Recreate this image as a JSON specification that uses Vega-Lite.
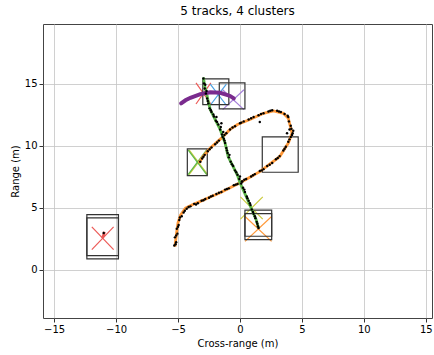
{
  "$schema": "https://vega.github.io/schema/vega-lite/v6.json",
  "width": 389,
  "height": 294,
  "autosize": {"type": "none"},
  "padding": {"left": 43, "top": 24, "right": 2, "bottom": 37},
  "background": "white",
  "title": {"text": "5 tracks, 4 clusters", "font": "DejaVu Sans", "fontSize": 12, "fontWeight": "normal", "color": "#000", "offset": 6, "anchor": "middle"},
  "config": {
    "view": {"stroke": "#444", "strokeWidth": 1},
    "axis": {"grid": true, "gridColor": "#c4c4c4", "gridWidth": 0.8, "domain": false, "tickColor": "#333", "tickSize": 4, "labelPadding": 2, "labelFont": "DejaVu Sans", "labelFontSize": 10, "labelColor": "#000", "titleFont": "DejaVu Sans", "titleFontSize": 10, "titleFontWeight": "normal", "titleColor": "#000", "titlePadding": 4}
  },
  "datasets": {
    "boxes": [
      {"x": -3.0, "x2": -0.9, "y": 13.3, "y2": 15.38},
      {"x": -1.67, "x2": 0.4, "y": 12.96, "y2": 15.05},
      {"x": 1.8, "x2": 4.7, "y": 7.85, "y2": 10.7},
      {"x": -4.25, "x2": -2.64, "y": 7.58, "y2": 9.73},
      {"x": 0.4, "x2": 2.56, "y": 2.42, "y2": 4.79},
      {"x": 0.4, "x2": 2.56, "y": 2.69, "y2": 4.52},
      {"x": -12.36, "x2": -9.81, "y": 0.86, "y2": 4.44},
      {"x": -12.36, "x2": -9.81, "y": 1.13, "y2": 4.17}
    ],
    "crosses": [
      {"k": "red", "x": -3.55, "y": 13.35, "x2": -2.35, "y2": 15.05},
      {"k": "red", "x": -3.55, "y": 15.05, "x2": -2.35, "y2": 13.35},
      {"k": "blue", "x": -2.4, "y": 13.25, "x2": -1.1, "y2": 14.95},
      {"k": "blue", "x": -2.4, "y": 14.95, "x2": -1.1, "y2": 13.25},
      {"k": "lavender", "x": -1.4, "y": 12.9, "x2": 0.32, "y2": 14.5},
      {"k": "lavender", "x": -1.4, "y": 14.5, "x2": 0.32, "y2": 12.9},
      {"k": "yellow", "x": -4.11, "y": 7.65, "x2": -2.61, "y2": 9.65},
      {"k": "yellow", "x": -4.11, "y": 9.65, "x2": -2.61, "y2": 7.65},
      {"k": "green", "x": -4.19, "y": 7.65, "x2": -2.69, "y2": 9.65},
      {"k": "green", "x": -4.19, "y": 9.65, "x2": -2.69, "y2": 7.65},
      {"k": "yellow", "x": 0.04, "y": 4.07, "x2": 1.84, "y2": 5.87},
      {"k": "yellow", "x": 0.04, "y": 5.87, "x2": 1.84, "y2": 4.07},
      {"k": "orange", "x": 0.41, "y": 2.28, "x2": 2.55, "y2": 4.28},
      {"k": "orange", "x": 0.41, "y": 4.28, "x2": 2.55, "y2": 2.28},
      {"k": "red", "x": -11.96, "y": 1.61, "x2": -10.2, "y2": 3.45},
      {"k": "red", "x": -11.96, "y": 3.45, "x2": -10.2, "y2": 1.61}
    ],
    "tracks": [
      {"t": "orange", "o": 1, "x": -5.25, "y": 1.85},
      {"t": "orange", "o": 2, "x": -5.2, "y": 2.3},
      {"t": "orange", "o": 3, "x": -5.1, "y": 3.1},
      {"t": "orange", "o": 4, "x": -5.0, "y": 3.8},
      {"t": "orange", "o": 5, "x": -4.8, "y": 4.4},
      {"t": "orange", "o": 6, "x": -4.4, "y": 4.95},
      {"t": "orange", "o": 7, "x": -3.8, "y": 5.25},
      {"t": "orange", "o": 8, "x": -3.2, "y": 5.5},
      {"t": "orange", "o": 9, "x": -2.4, "y": 5.85},
      {"t": "orange", "o": 10, "x": -1.6, "y": 6.2},
      {"t": "orange", "o": 11, "x": -0.8, "y": 6.6},
      {"t": "orange", "o": 12, "x": 0.0, "y": 7.0},
      {"t": "orange", "o": 13, "x": 0.8, "y": 7.45},
      {"t": "orange", "o": 14, "x": 1.6, "y": 7.9},
      {"t": "orange", "o": 15, "x": 2.4, "y": 8.5},
      {"t": "orange", "o": 16, "x": 3.2, "y": 9.1},
      {"t": "orange", "o": 17, "x": 3.9, "y": 10.2},
      {"t": "orange", "o": 18, "x": 4.2, "y": 11.0},
      {"t": "orange", "o": 19, "x": 4.05, "y": 11.6},
      {"t": "orange", "o": 20, "x": 3.9, "y": 12.2},
      {"t": "orange", "o": 21, "x": 3.5, "y": 12.6},
      {"t": "orange", "o": 22, "x": 2.7, "y": 12.8},
      {"t": "orange", "o": 23, "x": 1.9, "y": 12.6},
      {"t": "orange", "o": 24, "x": 0.8, "y": 12.1},
      {"t": "orange", "o": 25, "x": -0.2, "y": 11.7},
      {"t": "orange", "o": 26, "x": -0.8, "y": 11.3},
      {"t": "orange", "o": 27, "x": -1.5, "y": 10.6},
      {"t": "orange", "o": 28, "x": -2.4, "y": 9.8},
      {"t": "orange", "o": 29, "x": -3.0, "y": 9.1},
      {"t": "orange", "o": 30, "x": -3.3, "y": 8.6},
      {"t": "green", "o": 1, "x": -2.95, "y": 15.5},
      {"t": "green", "o": 2, "x": -2.85, "y": 14.8},
      {"t": "green", "o": 3, "x": -2.7, "y": 14.25},
      {"t": "green", "o": 4, "x": -2.55, "y": 13.5},
      {"t": "green", "o": 5, "x": -2.4, "y": 12.9},
      {"t": "green", "o": 6, "x": -2.0, "y": 12.1},
      {"t": "green", "o": 7, "x": -1.6, "y": 11.3},
      {"t": "green", "o": 8, "x": -1.2, "y": 10.2},
      {"t": "green", "o": 9, "x": -0.95, "y": 9.1},
      {"t": "green", "o": 10, "x": -0.55, "y": 8.3},
      {"t": "green", "o": 11, "x": -0.2, "y": 7.6},
      {"t": "green", "o": 12, "x": 0.0, "y": 7.0},
      {"t": "green", "o": 13, "x": 0.5, "y": 5.9},
      {"t": "green", "o": 14, "x": 0.95, "y": 4.85},
      {"t": "green", "o": 15, "x": 1.3, "y": 4.05},
      {"t": "green", "o": 16, "x": 1.5, "y": 3.35},
      {"t": "green2", "o": 1, "x": -11.1, "y": 2.55},
      {"t": "green2", "o": 2, "x": -11.0, "y": 2.8},
      {"t": "green2", "o": 3, "x": -10.95, "y": 3.05}
    ],
    "purple": [
      {"o": 1, "x": -4.75, "y": 13.4},
      {"o": 2, "x": -4.4, "y": 13.65},
      {"o": 3, "x": -4.0, "y": 13.85},
      {"o": 4, "x": -3.2, "y": 14.15},
      {"o": 5, "x": -2.4, "y": 14.3},
      {"o": 6, "x": -1.6, "y": 14.25},
      {"o": 7, "x": -0.8, "y": 14.0},
      {"o": 8, "x": -0.5, "y": 13.8}
    ],
    "dets": [
      {"x": -5.3, "y": 1.95}, {"x": -5.15, "y": 2.2}, {"x": -5.25, "y": 2.6}, {"x": -5.05, "y": 2.9}, {"x": -5.1, "y": 3.3},
      {"x": -4.95, "y": 3.6}, {"x": -4.9, "y": 4.0}, {"x": -4.7, "y": 4.3}, {"x": -4.55, "y": 4.6}, {"x": -4.3, "y": 4.9},
      {"x": -4.0, "y": 5.1}, {"x": -3.7, "y": 5.3}, {"x": -3.4, "y": 5.35}, {"x": -3.1, "y": 5.55}, {"x": -2.8, "y": 5.7},
      {"x": -2.5, "y": 5.8}, {"x": -2.2, "y": 5.95}, {"x": -1.9, "y": 6.1}, {"x": -1.5, "y": 6.25}, {"x": -1.2, "y": 6.45},
      {"x": -0.9, "y": 6.55}, {"x": -0.5, "y": 6.8}, {"x": -0.2, "y": 6.9}, {"x": 0.2, "y": 7.1}, {"x": 0.5, "y": 7.3},
      {"x": 0.9, "y": 7.5}, {"x": 1.2, "y": 7.7}, {"x": 1.6, "y": 7.95}, {"x": 1.9, "y": 8.1}, {"x": 2.2, "y": 8.35},
      {"x": 2.6, "y": 8.6}, {"x": 2.9, "y": 8.9}, {"x": 3.2, "y": 9.15}, {"x": 3.5, "y": 9.6}, {"x": 3.7, "y": 9.9},
      {"x": 3.9, "y": 10.3}, {"x": 4.1, "y": 10.7}, {"x": 4.25, "y": 11.0}, {"x": 4.0, "y": 11.3}, {"x": 4.1, "y": 11.6},
      {"x": 3.95, "y": 11.95}, {"x": 3.9, "y": 12.3}, {"x": 3.6, "y": 12.55}, {"x": 3.3, "y": 12.7}, {"x": 3.0, "y": 12.8},
      {"x": 2.6, "y": 12.85}, {"x": 2.3, "y": 12.75}, {"x": 1.9, "y": 12.6}, {"x": 1.5, "y": 12.45}, {"x": 1.1, "y": 12.3},
      {"x": 0.7, "y": 12.1}, {"x": 0.3, "y": 11.95}, {"x": 0.0, "y": 11.8}, {"x": -0.4, "y": 11.55}, {"x": -0.8, "y": 11.3},
      {"x": -1.1, "y": 11.0}, {"x": -1.4, "y": 10.7}, {"x": -1.7, "y": 10.4}, {"x": -2.0, "y": 10.1}, {"x": -2.3, "y": 9.85},
      {"x": -2.6, "y": 9.55}, {"x": -2.85, "y": 9.25}, {"x": -3.05, "y": 8.95}, {"x": -3.2, "y": 8.7},
      {"x": -5.2, "y": 2.05}, {"x": -5.15, "y": 2.75}, {"x": -5.0, "y": 3.45}, {"x": -4.85, "y": 4.2}, {"x": -4.45, "y": 4.75},
      {"x": -4.15, "y": 5.05}, {"x": -3.55, "y": 5.25}, {"x": -2.95, "y": 5.6}, {"x": -2.35, "y": 5.9}, {"x": -1.7, "y": 6.2},
      {"x": -1.05, "y": 6.5}, {"x": -0.35, "y": 6.85}, {"x": 0.35, "y": 7.25}, {"x": 1.05, "y": 7.6}, {"x": 1.75, "y": 8.0},
      {"x": 2.4, "y": 8.45}, {"x": 3.05, "y": 9.0}, {"x": 3.6, "y": 9.75}, {"x": 4.0, "y": 10.5}, {"x": 4.2, "y": 10.85},
      {"x": 4.15, "y": 11.35}, {"x": 3.85, "y": 12.4}, {"x": 3.15, "y": 12.75}, {"x": 2.45, "y": 12.8}, {"x": 1.7, "y": 12.55},
      {"x": 0.9, "y": 12.2}, {"x": 0.1, "y": 11.85}, {"x": -0.6, "y": 11.45}, {"x": -1.25, "y": 10.85}, {"x": -1.85, "y": 10.25},
      {"x": -2.45, "y": 9.7}, {"x": -2.95, "y": 9.1},
      {"x": -2.95, "y": 15.4}, {"x": -2.9, "y": 15.0}, {"x": -2.85, "y": 14.6}, {"x": -2.75, "y": 14.2}, {"x": -2.65, "y": 13.8},
      {"x": -2.55, "y": 13.4}, {"x": -2.45, "y": 13.0}, {"x": -2.3, "y": 12.7}, {"x": -2.1, "y": 12.35}, {"x": -1.95, "y": 12.0},
      {"x": -1.75, "y": 11.7}, {"x": -1.6, "y": 11.3}, {"x": -1.45, "y": 10.9}, {"x": -1.3, "y": 10.55}, {"x": -1.2, "y": 10.2},
      {"x": -1.1, "y": 9.8}, {"x": -1.0, "y": 9.4}, {"x": -0.9, "y": 9.05}, {"x": -0.75, "y": 8.7}, {"x": -0.55, "y": 8.35},
      {"x": -0.4, "y": 8.0}, {"x": -0.2, "y": 7.65}, {"x": -0.05, "y": 7.3}, {"x": 0.1, "y": 6.95}, {"x": 0.25, "y": 6.6},
      {"x": 0.4, "y": 6.25}, {"x": 0.55, "y": 5.9}, {"x": 0.7, "y": 5.55}, {"x": 0.85, "y": 5.2}, {"x": 0.95, "y": 4.85},
      {"x": 1.1, "y": 4.5}, {"x": 1.25, "y": 4.15}, {"x": 1.35, "y": 3.85}, {"x": 1.45, "y": 3.5}, {"x": 1.5, "y": 3.35},
      {"x": -2.8, "y": 14.9}, {"x": -2.7, "y": 14.4}, {"x": -2.6, "y": 13.6}, {"x": -2.35, "y": 12.85}, {"x": -2.15, "y": 12.5},
      {"x": -1.85, "y": 11.9}, {"x": -1.55, "y": 11.5}, {"x": -1.35, "y": 11.1}, {"x": -1.25, "y": 10.4}, {"x": -1.05, "y": 9.6},
      {"x": -0.85, "y": 9.25}, {"x": -0.65, "y": 8.5}, {"x": -0.3, "y": 7.85}, {"x": 0.0, "y": 7.5}, {"x": 0.15, "y": 7.1},
      {"x": 0.35, "y": 6.45}, {"x": 0.6, "y": 5.75}, {"x": 0.8, "y": 5.35}, {"x": 1.05, "y": 4.65}, {"x": 1.2, "y": 4.3}, {"x": 1.4, "y": 3.7},
      {"x": 1.6, "y": 11.9}, {"x": -1.9, "y": 12.3}, {"x": -1.5, "y": 11.8}, {"x": 4.3, "y": 11.2}, {"x": 3.8, "y": 11.0}, {"x": -11.0, "y": 2.95}
    ]
  },
  "encoding": {
    "x": {"field": "x", "type": "quantitative", "scale": {"domain": [-15.9, 15.5], "nice": false, "zero": false}, "axis": {"title": "Cross-range (m)", "values": [-15, -10, -5, 0, 5, 10, 15]}},
    "y": {"field": "y", "type": "quantitative", "scale": {"domain": [-3.9, 19.8], "nice": false, "zero": false}, "axis": {"title": "Range (m)", "values": [0, 5, 10, 15]}}
  },
  "layer": [
    {
      "data": {"name": "crosses"},
      "mark": {"type": "rule", "strokeWidth": 1.2, "opacity": 1, "clip": true},
      "encoding": {
        "x2": {"field": "x2"},
        "y2": {"field": "y2"},
        "color": {"field": "k", "type": "nominal", "legend": null, "scale": {"domain": ["red", "blue", "lavender", "yellow", "green", "orange"], "range": ["#ec5a57", "#4b9fe0", "#a47ed8", "#c9c93a", "#5db84a", "#ff9838"]}}
      }
    },
    {
      "data": {"name": "boxes"},
      "mark": {"type": "rect", "fill": "transparent", "stroke": "#333333", "strokeWidth": 1.2, "clip": true},
      "encoding": {"x2": {"field": "x2"}, "y2": {"field": "y2"}}
    },
    {
      "data": {"name": "tracks"},
      "mark": {"type": "line", "strokeWidth": 2.8, "clip": true},
      "encoding": {
        "order": {"field": "o", "type": "quantitative"},
        "color": {"field": "t", "type": "nominal", "legend": null, "scale": {"domain": ["orange", "green", "green2"], "range": ["#f0601e", "#7cc21e", "#7cc21e"]}}
      }
    },
    {
      "data": {"name": "purple"},
      "mark": {"type": "line", "strokeWidth": 4, "color": "#7a2b8e", "strokeCap": "round", "clip": true},
      "encoding": {"order": {"field": "o", "type": "quantitative"}}
    },
    {
      "data": {"name": "dets"},
      "mark": {"type": "circle", "size": 6, "color": "#000000", "opacity": 1, "clip": true}
    }
  ]
}
